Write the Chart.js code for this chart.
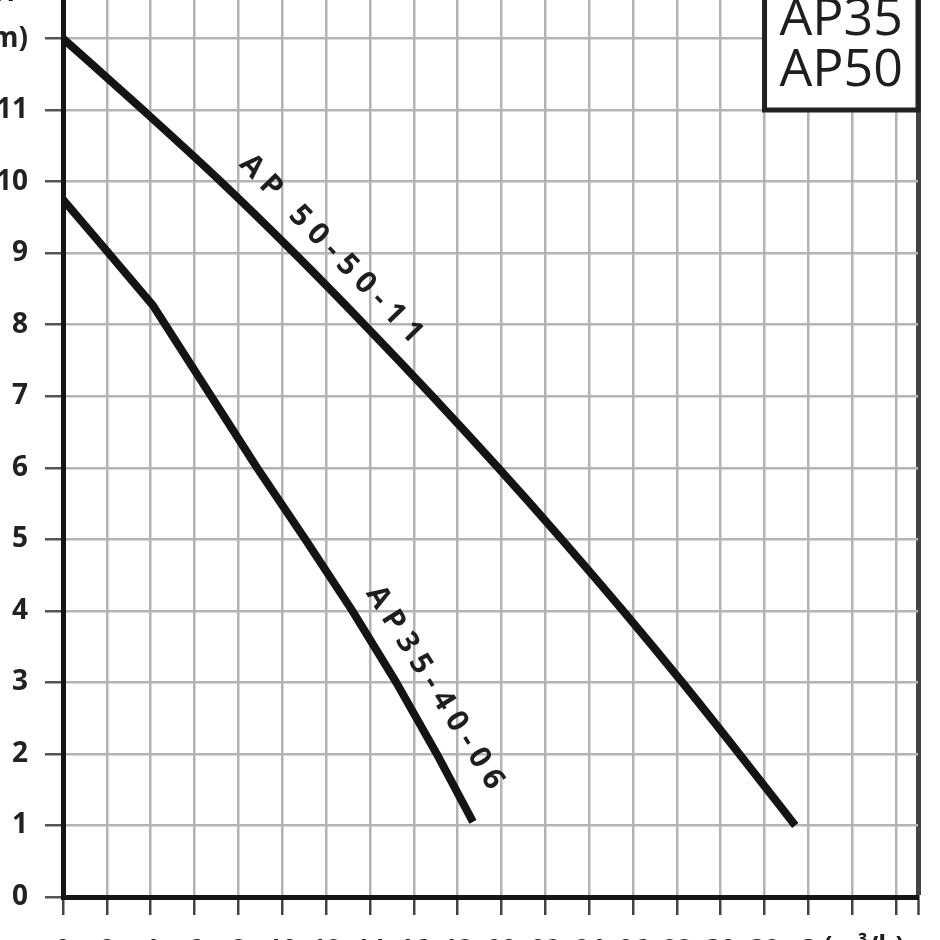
<!DOCTYPE html>
<html>
<head>
<meta charset="utf-8">
<script src="https://cdn.jsdelivr.net/npm/chart.js@4.4.1/dist/chart.umd.min.js"></script>
<style>
  html, body { margin: 0; padding: 0; background: #fff; overflow: hidden; }
  #wrap { position: relative; width: 940px; height: 940px; overflow: hidden; }
  #pump { position: absolute; left: -40px; top: -80px; }
</style>
</head>
<body>
<div id="wrap"><canvas id="pump" width="1000" height="1060"></canvas></div>
<script>
// flow Q (m3/h) and head H (m)
const qAP50 = [0, 3.65, 7.2, 10.55, 13.75, 16.85, 19.85, 22.75, 25.55, 28.25, 30.85, 33.4];
const hAP50 = [12, 11, 10, 9, 8, 7, 6, 5, 4, 3, 2, 1];
const qAP35 = [0, 2, 4.1, 6.55, 8.85, 11.05, 13.2, 15.2, 17.05, 18.7];
const hAP35 = [9.75, 9.03, 8.27, 7.1, 6, 5, 4, 3, 2, 1.05];

// axis ticks
const qTicks = [0, 2, 4, 6, 8, 10, 12, 14, 16, 18, 20, 22, 24, 26, 28, 30, 32, 34, 36, 38, 39];
const qLabels = ['0', '2', '4', '6', '8', '10', '12', '14', '16', '18', '20', '22', '24', '26', '28', '30', '32', 'Q', '', '', ''];
const hTicks = [0, 1, 2, 3, 4, 5, 6, 7, 8, 9, 10, 11, 12, 13];
const hLabels = ['0', '1', '2', '3', '4', '5', '6', '7', '8', '9', '10', '11', '(m)', ''];

const boxNames = ['AP35', 'AP50'];
const curveNames = ['AP 50-50-11', 'AP35-40-06'];

const toPoints = (qs, hs) => qs.map((q, i) => ({ x: q, y: hs[i] }));

const FONT = "'Open Sans', 'DejaVu Sans', sans-serif";

// box top right, names along the curves, axis titles
const extras = {
    id: 'extras',
    afterDraw(chart) {
        const { ctx, chartArea, scales: { x, y } } = chart;
        ctx.save();

        const bx = x.getPixelForValue(32);
        const by = y.getPixelForValue(11);
        ctx.fillStyle = '#fff';
        ctx.fillRect(bx, 0, chartArea.right - bx, by);
        ctx.strokeStyle = '#222';
        ctx.lineWidth = 5;
        ctx.beginPath();
        ctx.moveTo(bx, 0);
        ctx.lineTo(bx, by);
        ctx.lineTo(chartArea.right, by);
        ctx.lineTo(chartArea.right, 0);
        ctx.stroke();

        ctx.fillStyle = '#1e1e1e';
        ctx.textAlign = 'center';
        ctx.textBaseline = 'middle';
        ctx.font = '52px ' + FONT;
        ctx.fillText(boxNames[0], x.getPixelForValue(35.5), y.getPixelForValue(12.25));
        ctx.fillText(boxNames[1], x.getPixelForValue(35.5), y.getPixelForValue(11.54));

        // curve names, rotated along the lines
        ctx.font = 'bold 30px ' + FONT;
        ctx.letterSpacing = '8px';
        const along = (txt, q, h, deg) => {
            ctx.save();
            ctx.translate(x.getPixelForValue(q), y.getPixelForValue(h));
            ctx.rotate(deg * Math.PI / 180);
            ctx.fillText(txt, 0, 0);
            ctx.restore();
        };
        along(curveNames[0], 12.35, 9.02, 46);
        along(curveNames[1], 17.05, 2.88, 58);
        ctx.letterSpacing = '0px';

        // "H" above the "(m)" tick label
        ctx.font = 'bold 28px ' + FONT;
        const right = chartArea.left - 35;
        const mw = ctx.measureText('(m)').width;
        ctx.fillText('H', right - mw / 2, y.getPixelForValue(12) - 46);

        // unit after "Q"
        ctx.font = 'bold 26px ' + FONT;
        ctx.textAlign = 'left';
        ctx.textBaseline = 'top';
        ctx.fillText('(m³/h)', x.getPixelForValue(34) + 15, chartArea.bottom + 38);

        ctx.restore();
    }
};

const config = {
    type: 'scatter',
    data: {
        datasets: [{
            label: 'AP 50-50-11',
            data: toPoints(qAP50, hAP50),
            showLine: true,
            borderColor: '#141414',
            borderWidth: 8,
            pointRadius: 0,
            cubicInterpolationMode: 'monotone'
        }, {
            label: 'AP35-40-06',
            data: toPoints(qAP35, hAP35),
            showLine: true,
            borderColor: '#141414',
            borderWidth: 8,
            borderJoinStyle: 'round',
            pointRadius: 0,
            tension: 0
        }]
    },
    options: {
        responsive: false,
        animation: false,
        layout: {
            padding: { top: 47, right: 42, left: 0, bottom: 0 }
        },
        plugins: {
            legend: { display: false },
            tooltip: { enabled: false }
        },
        scales: {
            x: {
                type: 'linear',
                min: 0,
                max: 39,
                afterBuildTicks: s => { s.ticks = qTicks.map(v => ({ value: v })); },
                afterFit: s => { s.height = 83; },
                grid: {
                    color: c => (c.tick && c.tick.value === 39) ? '#444' : '#b4b4b4',
                    lineWidth: c => (c.tick && c.tick.value === 39) ? 5 : 2.5,
                    tickColor: '#444',
                    tickLength: 18,
                    tickWidth: 2.5
                },
                border: { color: '#151515', width: 5 },
                ticks: {
                    autoSkip: false,
                    maxRotation: 0,
                    minRotation: 0,
                    padding: 20,
                    color: '#222',
                    font: { family: FONT, size: 26, weight: 'bold' },
                    callback: v => qLabels[qTicks.indexOf(v)]
                }
            },
            y: {
                type: 'linear',
                min: 0,
                max: 13,
                afterBuildTicks: s => { s.ticks = hTicks.map(v => ({ value: v })); },
                afterFit: s => { s.width = 103; },
                grid: {
                    color: '#b4b4b4',
                    lineWidth: 2.5,
                    tickColor: '#555',
                    tickLength: 18,
                    tickWidth: 2.5
                },
                border: { color: '#151515', width: 5 },
                ticks: {
                    autoSkip: false,
                    padding: 17,
                    color: '#222',
                    font: { family: FONT, size: 28, weight: 'bold' },
                    callback: v => hLabels[hTicks.indexOf(v)]
                }
            }
        }
    },
    plugins: [extras]
};

const pumpChart = new Chart(document.getElementById('pump'), config);
</script>
</body>
</html>
